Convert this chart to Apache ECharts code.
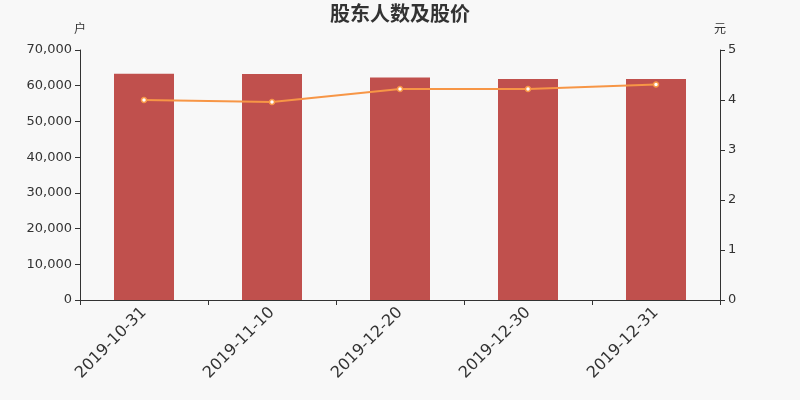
<!DOCTYPE html>
<html>
<head>
<meta charset="utf-8">
<script src="https://cdn.jsdelivr.net/npm/echarts@6/dist/echarts.min.js"></script>
<style>
  html, body { margin: 0; padding: 0; background: #f8f8f8; }
  #main { width: 800px; height: 400px; }
</style>
</head>
<body>
<div id="main"></div>
<script>
// 日期
var dates = ['2019-10-31', '2019-11-10', '2019-12-20', '2019-12-30', '2019-12-31'];
// 股东户数
var holders = [63350, 63250, 62300, 61850, 61850];
// 股价
var prices = [4.00, 3.96, 4.22, 4.22, 4.31];

var myChart = echarts.init(document.getElementById('main'));
myChart.setOption({
    backgroundColor: '#f8f8f8',
    animation: false,
    textStyle: { fontFamily: 'DejaVu Sans' },
    title: {
        text: '股东人数及股价',
        left: 'center',
        top: -2,
        textStyle: { fontSize: 20, fontWeight: 'bold', color: '#333', fontFamily: 'Noto Sans CJK SC' }
    },
    grid: { left: 80, right: 80, top: 50, bottom: 100 },
    xAxis: {
        type: 'category',
        data: dates,
        axisLine: { lineStyle: { color: '#333' } },
        axisTick: { show: true, alignWithLabel: false },
        axisLabel: { rotate: 45, fontSize: 16, color: '#333', margin: 10, fontFamily: 'DejaVu Sans' }
    },
    yAxis: [{
        type: 'value',
        name: '户',
        min: 0,
        max: 70000,
        interval: 10000,
        nameGap: 16,
        nameTextStyle: { color: '#333', fontSize: 12, fontFamily: 'Noto Sans CJK SC' },
        axisLine: { show: true, lineStyle: { color: '#333' } },
        axisTick: { show: true },
        splitLine: { show: false },
        axisLabel: { color: '#333', fontSize: 13, fontFamily: 'DejaVu Sans' }
    }, {
        type: 'value',
        name: '元',
        min: 0,
        max: 5,
        interval: 1,
        nameGap: 16,
        nameTextStyle: { color: '#333', fontSize: 12, fontFamily: 'Noto Sans CJK SC' },
        axisLine: { show: true, lineStyle: { color: '#333' } },
        axisTick: { show: true },
        splitLine: { show: false },
        axisLabel: { color: '#333', fontSize: 13, fontFamily: 'DejaVu Sans' }
    }],
    series: [{
        name: '股东户数',
        type: 'bar',
        data: holders,
        barWidth: 60,
        itemStyle: { color: '#c0504d' }
    }, {
        name: '股价',
        type: 'line',
        yAxisIndex: 1,
        data: prices,
        symbol: 'circle',
        symbolSize: 5,
        lineStyle: { color: '#f79646', width: 2 },
        itemStyle: { color: '#fff', borderColor: '#f79646', borderWidth: 1.5 }
    }]
});
</script>
</body>
</html>
